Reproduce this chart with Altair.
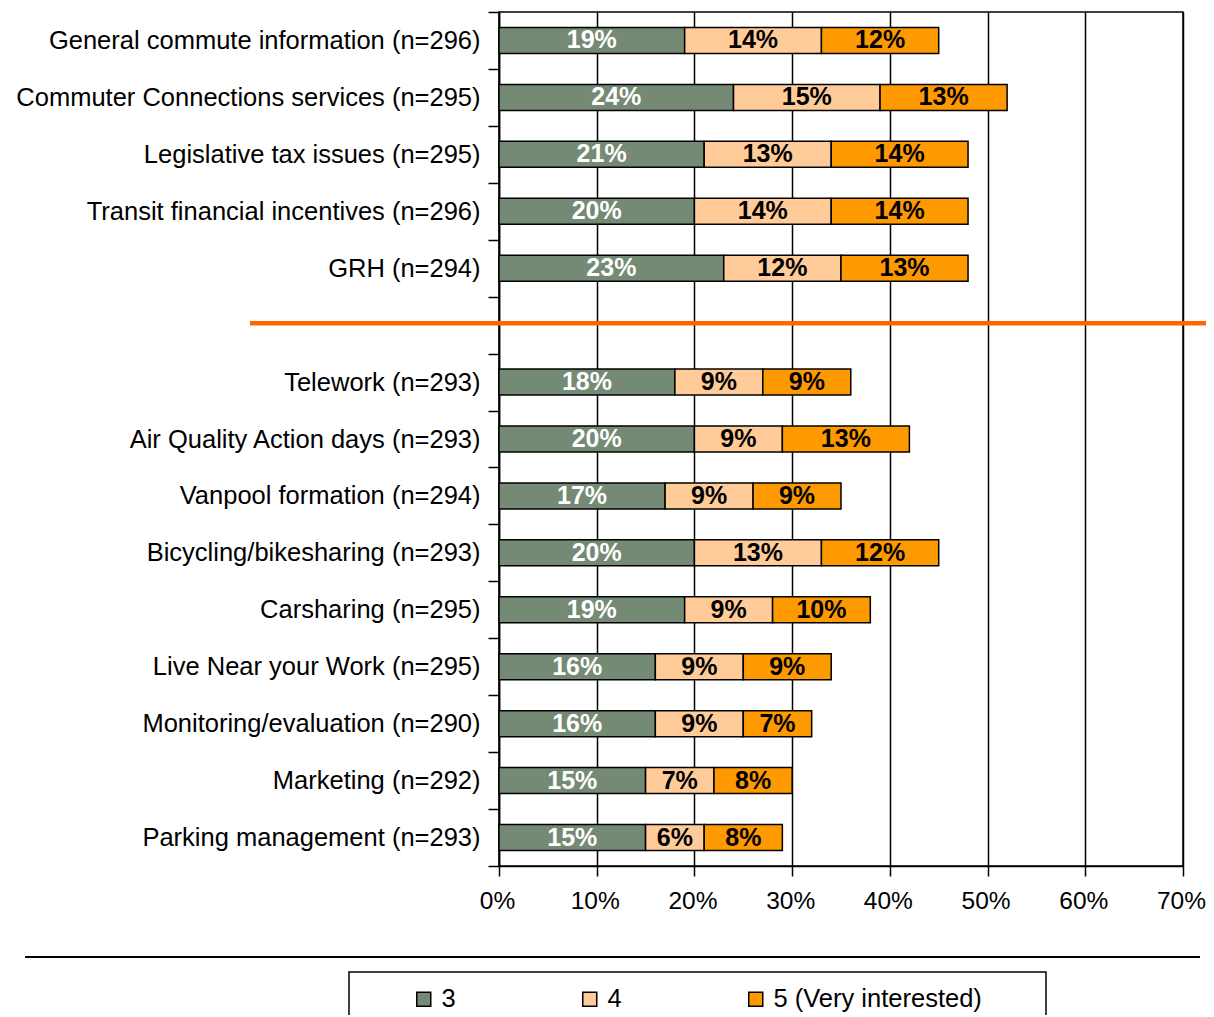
import altair as alt
import pandas as pd

GAP = " "
categories = [
    "General commute information (n=296)",
    "Commuter Connections services (n=295)",
    "Legislative tax issues (n=295)",
    "Transit financial incentives (n=296)",
    "GRH (n=294)",
    GAP,
    "Telework (n=293)",
    "Air Quality Action days (n=293)",
    "Vanpool formation (n=294)",
    "Bicycling/bikesharing (n=293)",
    "Carsharing (n=295)",
    "Live Near your Work (n=295)",
    "Monitoring/evaluation (n=290)",
    "Marketing (n=292)",
    "Parking management (n=293)",
]
share_3 = [19, 24, 21, 20, 23, 18, 20, 17, 20, 19, 16, 16, 15, 15]
share_4 = [14, 15, 13, 14, 12, 9, 9, 9, 13, 9, 9, 9, 7, 6]
share_5 = [12, 13, 14, 14, 13, 9, 13, 9, 12, 10, 9, 7, 8, 8]
levels = ["3", "4", "5 (Very interested)"]
colors = ["#758A74", "#FFCC99", "#FF9900"]
x_ticks = [0, 10, 20, 30, 40, 50, 60, 70]

rows = []
bar_cats = [c for c in categories if c != GAP]
for i, c in enumerate(bar_cats):
    for k, (lvl, vals) in enumerate(zip(levels, [share_3, share_4, share_5])):
        rows.append({"cat": c, "level": lvl, "ord": k, "value": vals[i]})
df = pd.DataFrame(rows)

FONT = "Liberation Sans"
W, H = 684, 854

xscale = alt.Scale(domain=[0, 70], nice=False)
yscale = alt.Scale(domain=categories, paddingInner=0, paddingOuter=0)

base = (
    alt.Chart(df)
    .transform_stack(
        stack="value",
        as_=["x0", "x1"],
        groupby=["cat"],
        sort=[alt.SortField(field="ord", order="ascending")],
    )
    .transform_calculate(mid="(datum.x0 + datum.x1) / 2", lab="datum.value + '%'")
)

bars = base.mark_bar(stroke="black", strokeWidth=1.5, height=26).encode(
    x=alt.X(
        "x0:Q",
        scale=xscale,
        title=None,
        axis=alt.Axis(
            title=None,
            values=x_ticks,
            labelExpr="datum.value + '%'",
            labelFlush=False,
            labelOffset=-2,
            grid=True,
            gridColor="black",
            gridWidth=1.5,
            gridOpacity=1,
            tickSize=10,
            tickColor="black",
            tickWidth=1.5,
            domainColor="black",
            domainWidth=1.5,
            labelFont=FONT,
            labelFontSize=24.5,
            labelColor="black",
            labelPadding=13,
        ),
    ),
    x2="x1:Q",
    y=alt.Y(
        "cat:N",
        scale=yscale,
        title=None,
        axis=alt.Axis(
            title=None,
            tickBand="extent",
            tickSize=11,
            tickColor="black",
            tickWidth=1.5,
            domainColor="black",
            domainWidth=1.5,
            labelFont=FONT,
            labelFontSize=25.5,
            labelColor="black",
            labelPadding=8,
            labelLimit=600,
        ),
    ),
    color=alt.Color(
        "level:N",
        scale=alt.Scale(domain=levels, range=colors),
        legend=alt.Legend(
            title=None,
            orient="none",
            legendX=-88,
            legendY=974,
            direction="horizontal",
            symbolType="square",
            symbolSize=196,
            symbolStrokeColor="black",
            symbolStrokeWidth=1.5,
            labelFont=FONT,
            labelFontSize=25.5,
            labelColor="black",
            labelOffset=5,
            labelLimit=400,
            columnPadding=121,
            padding=0,
        ),
    ),
    order=alt.Order("ord:Q"),
)

texts = base.mark_text(
    font=FONT, fontSize=25, fontWeight="bold", baseline="middle", align="center"
).encode(
    x=alt.X("mid:Q", scale=xscale, title=None),
    y=alt.Y("cat:N", scale=yscale, title=None),
    text="lab:N",
    color=alt.condition("datum.level == '3'", alt.value("white"), alt.value("black")),
)

one = pd.DataFrame({"cat": [GAP]})

orange = alt.Chart(one).mark_rule(color="#FF6600", strokeWidth=4.5, yOffset=-2).encode(
    y=alt.Y("cat:N", scale=yscale, title=None, bandPosition=0.5),
    x=alt.value(-249),
    x2=alt.value(710),
)

black_rule = alt.Chart(one).mark_rule(color="black", strokeWidth=2).encode(
    y=alt.value(945), x=alt.value(-474), x2=alt.value(701)
)

legend_box = alt.Chart(one).mark_rect(fill="white", stroke="black", strokeWidth=1.5).encode(
    x=alt.value(-150), x2=alt.value(547), y=alt.value(960), y2=alt.value(1020)
)

chart = (
    alt.layer(black_rule, legend_box, bars, texts, orange)
    .properties(
        width=W,
        height=H,
        autosize=alt.AutoSizeParams(type="none"),
        padding={"left": 491, "top": 4, "right": 23, "bottom": 149},
    )
    .configure_view(stroke="black", strokeWidth=1.5)
)

chart.save("out.html", embed_options={"renderer": "svg", "actions": False})
